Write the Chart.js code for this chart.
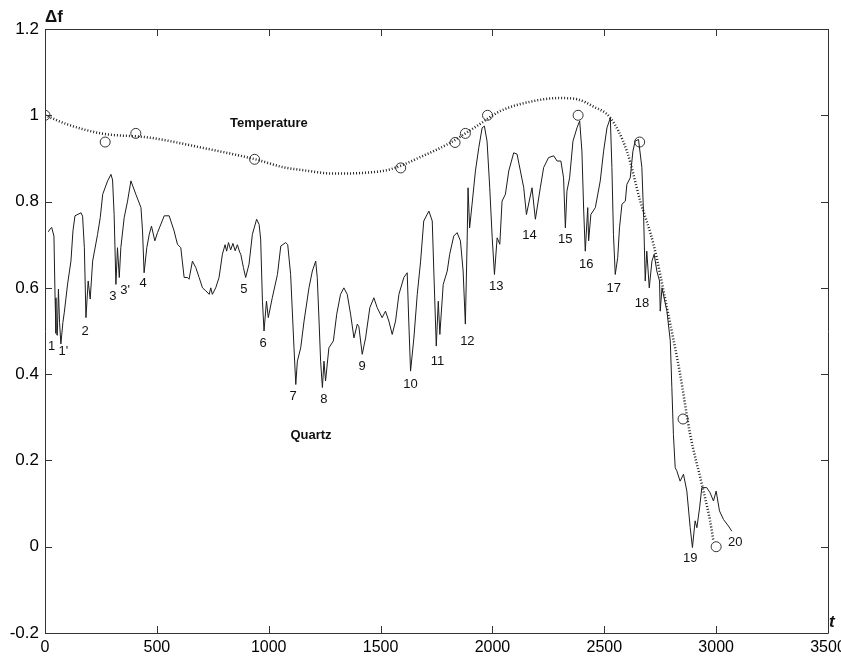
<!DOCTYPE html>
<html>
<head>
<meta charset="utf-8">
<script src="https://cdn.jsdelivr.net/npm/chart.js@4.4.1/dist/chart.umd.min.js"></script>
<style>
html,body{margin:0;padding:0;background:#fff;}
#wrap{width:841px;height:658px;position:relative;}
</style>
</head>
<body>
<div id="wrap"><canvas id="c" width="841" height="658"></canvas></div>
<script>
// ---- data ----
const quartzT = [15,22,30,40,45,49,55,60,65,71,80,86,101,116,125,134,161,168,176,183,193,202,213,235,247,258,280,295,302,309,317,324,332,339,354,369,384,406,429,436,443,455,466,476,491,503,533,555,577,592,607,622,637,644,659,674,689,704,719,734,741,748,763,778,793,805,812,820,830,840,850,860,870,875,887,897,912,927,946,957,964,972,979,990,998,1016,1039,1054,1076,1085,1098,1113,1121,1128,1143,1158,1180,1195,1210,1217,1225,1232,1240,1247,1254,1269,1289,1304,1321,1336,1351,1366,1381,1396,1403,1418,1433,1452,1470,1485,1507,1522,1537,1552,1567,1582,1604,1619,1626,1634,1649,1664,1679,1693,1716,1731,1738,1749,1758,1765,1780,1798,1809,1827,1842,1857,1869,1879,1887,1891,1898,1909,1924,1939,1954,1964,1976,1988,1999,2009,2021,2033,2043,2058,2073,2095,2110,2125,2140,2152,2177,2192,2214,2229,2251,2274,2289,2306,2318,2326,2333,2345,2360,2378,2390,2400,2408,2415,2426,2430,2440,2460,2482,2497,2512,2527,2534,2541,2549,2560,2568,2579,2594,2601,2616,2628,2638,2653,2668,2676,2683,2690,2701,2713,2723,2735,2747,2750,2758,2780,2795,2802,2809,2817,2824,2839,2854,2869,2884,2894,2906,2914,2926,2936,2958,2973,2988,3000,3015,3033,3055,3070];
const quartzV = [0.73,0.736,0.74,0.72,0.577,0.495,0.49,0.597,0.52,0.47,0.52,0.542,0.609,0.662,0.732,0.767,0.774,0.766,0.693,0.531,0.616,0.574,0.662,0.724,0.763,0.817,0.848,0.863,0.85,0.77,0.608,0.693,0.624,0.693,0.763,0.801,0.848,0.817,0.786,0.732,0.635,0.693,0.724,0.743,0.709,0.728,0.767,0.767,0.732,0.701,0.693,0.624,0.624,0.62,0.662,0.647,0.624,0.60,0.593,0.585,0.60,0.585,0.60,0.624,0.678,0.70,0.685,0.705,0.688,0.703,0.686,0.70,0.683,0.678,0.647,0.624,0.655,0.724,0.759,0.747,0.713,0.569,0.50,0.569,0.531,0.577,0.631,0.697,0.705,0.70,0.631,0.461,0.376,0.43,0.461,0.523,0.60,0.639,0.662,0.624,0.523,0.43,0.369,0.43,0.384,0.461,0.477,0.539,0.585,0.60,0.585,0.539,0.484,0.516,0.51,0.446,0.484,0.554,0.577,0.554,0.531,0.546,0.523,0.492,0.523,0.585,0.624,0.635,0.523,0.407,0.484,0.585,0.662,0.755,0.778,0.755,0.639,0.465,0.569,0.492,0.608,0.639,0.678,0.72,0.728,0.709,0.639,0.516,0.709,0.832,0.739,0.794,0.871,0.925,0.971,0.975,0.94,0.832,0.716,0.631,0.716,0.701,0.801,0.817,0.871,0.913,0.91,0.871,0.832,0.77,0.832,0.759,0.832,0.879,0.902,0.906,0.894,0.894,0.855,0.739,0.824,0.855,0.94,0.971,0.987,0.917,0.778,0.685,0.786,0.709,0.77,0.786,0.848,0.917,0.971,0.994,0.879,0.724,0.631,0.67,0.739,0.794,0.801,0.84,0.855,0.917,0.94,0.944,0.879,0.763,0.616,0.685,0.60,0.662,0.678,0.639,0.616,0.546,0.60,0.546,0.477,0.369,0.26,0.183,0.176,0.152,0.168,0.129,0.044,-0.002,0.06,0.044,0.09,0.137,0.137,0.125,0.106,0.129,0.083,0.063,0.048,0.036];

const tempCurveT = [0,100,250,470,700,940,1070,1150,1290,1440,1545,1690,1810,1930,2036,2184,2300,2380,2452,2527,2601,2661,2720,2780,2839,2884,2936,2973,2988];
const tempCurveV = [1.0,0.979,0.958,0.948,0.925,0.898,0.879,0.873,0.865,0.867,0.875,0.906,0.936,0.975,1.01,1.033,1.04,1.037,1.02,0.994,0.917,0.801,0.701,0.554,0.40,0.26,0.145,0.06,0.013];

const tempObsT = [0,269,406,937,1590,1833,1879,1978,2383,2658,2852,3000];
const tempObsV = [1.0,0.938,0.958,0.898,0.878,0.937,0.958,1.0,1.0,0.938,0.296,0.0];

const markText = ["1","1'","2","3","3'","4","5","6","7","8","9","10","11","12","13","14","15","16","17","18","19","20"];
const markT = [30,82,179,303,358,439,889,975,1109,1246,1417,1634,1754,1888,2017,2166,2325,2419,2542,2669,2884,3085];
const markV = [0.465,0.452,0.498,0.581,0.594,0.610,0.597,0.471,0.349,0.342,0.419,0.376,0.429,0.477,0.603,0.722,0.712,0.655,0.598,0.564,-0.026,0.009];

const seriesNames = ["Temperature","Quartz"];
const seriesNameT = [1001,1189];
const seriesNameV = [0.98,0.259];

const xTicks = [0,500,1000,1500,2000,2500,3000,3500];
const yTicks = [-0.2,0,0.2,0.4,0.6,0.8,1.0,1.2];
const xTitle = "t";
const yTitle = "Δf";

// ---- build ----
const zip = (a,b) => a.map((x,i)=>({x:x,y:b[i]}));

const framePlugin = {
  id:'frame',
  afterDatasetsDraw(chart){
    const {ctx, chartArea:a, scales:{x,y}} = chart;
    ctx.save();
    ctx.strokeStyle = '#333';
    ctx.lineWidth = 1;
    ctx.beginPath();
    ctx.rect(Math.round(a.left)+0.5, Math.round(a.top)+0.5, Math.round(a.right-a.left), Math.round(a.bottom-a.top));
    const tl = 7;
    xTicks.forEach(v=>{
      const px = Math.round(x.getPixelForValue(v))+0.5;
      ctx.moveTo(px, a.bottom); ctx.lineTo(px, a.bottom-tl);
      ctx.moveTo(px, a.top); ctx.lineTo(px, a.top+tl);
    });
    yTicks.forEach(v=>{
      const py = Math.round(y.getPixelForValue(v))+0.5;
      ctx.moveTo(a.left, py); ctx.lineTo(a.left+tl, py);
      ctx.moveTo(a.right, py); ctx.lineTo(a.right-tl, py);
    });
    ctx.stroke();

    // point labels
    ctx.fillStyle = '#111';
    ctx.textAlign = 'center';
    ctx.textBaseline = 'middle';
    ctx.font = '13px "Liberation Sans", Arial, sans-serif';
    markText.forEach((s,i)=>{
      ctx.fillText(s, x.getPixelForValue(markT[i]), y.getPixelForValue(markV[i]));
    });
    ctx.font = 'bold 13px "Liberation Sans", Arial, sans-serif';
    seriesNames.forEach((s,i)=>{
      ctx.fillText(s, x.getPixelForValue(seriesNameT[i]), y.getPixelForValue(seriesNameV[i]));
    });
    // axis titles
    ctx.font = 'bold 17px "Liberation Sans", Arial, sans-serif';
    ctx.textAlign = 'left';
    ctx.fillText(yTitle, a.left, a.top - 12);
    ctx.font = 'italic bold 17px "Liberation Sans", Arial, sans-serif';
    ctx.fillText(xTitle, a.right + 1, a.bottom - 11);
    ctx.restore();
  }
};

const fmt = v => String(Number(Number(v).toFixed(1)));

new Chart(document.getElementById('c'), {
  type:'scatter',
  data:{
    datasets:[
      {
        label:'Quartz',
        data: zip(quartzT, quartzV),
        showLine:true,
        borderColor:'#1c1c1c',
        borderWidth:1,
        pointRadius:0,
        tension:0
      },
      {
        label:'Temperature fit',
        data: zip(tempCurveT, tempCurveV),
        showLine:true,
        borderColor:'#222',
        borderWidth:2.5,
        borderDash:[1,2],
        pointRadius:0,
        cubicInterpolationMode:'monotone'
      },
      {
        label:'Temperature',
        data: zip(tempObsT, tempObsV),
        showLine:false,
        pointRadius:5,
        pointBorderWidth:1,
        pointBorderColor:'#333',
        pointBackgroundColor:'rgba(0,0,0,0)',
        pointStyle:'circle'
      }
    ]
  },
  options:{
    responsive:false,
    animation:false,
    devicePixelRatio:1,
    layout:{padding:{top:29,right:13,left:0,bottom:0}},
    plugins:{legend:{display:false},tooltip:{enabled:false}},
    scales:{
      x:{
        type:'linear', min:0, max:3500,
        afterBuildTicks(s){ s.ticks = xTicks.map(v=>({value:v})); },
        afterFit(s){ s.height = 25; s.paddingLeft = 0; s.paddingRight = 0; },
        grid:{display:false, drawTicks:false},
        border:{display:false},
        ticks:{padding:5, color:'#000', font:{family:'"Liberation Sans", Arial, sans-serif', size:16}, callback:v=>String(v), maxRotation:0, autoSkip:false}
      },
      y:{
        type:'linear', min:-0.2, max:1.2,
        afterBuildTicks(s){ s.ticks = yTicks.map(v=>({value:v})); },
        afterFit(s){ s.width = 45; s.paddingTop = 0; s.paddingBottom = 0; },
        grid:{display:false, drawTicks:false},
        border:{display:false},
        ticks:{padding:6, color:'#000', font:{family:'"Liberation Sans", Arial, sans-serif', size:17}, callback:fmt, autoSkip:false}
      }
    }
  },
  plugins:[framePlugin]
});
</script>
</body>
</html>
